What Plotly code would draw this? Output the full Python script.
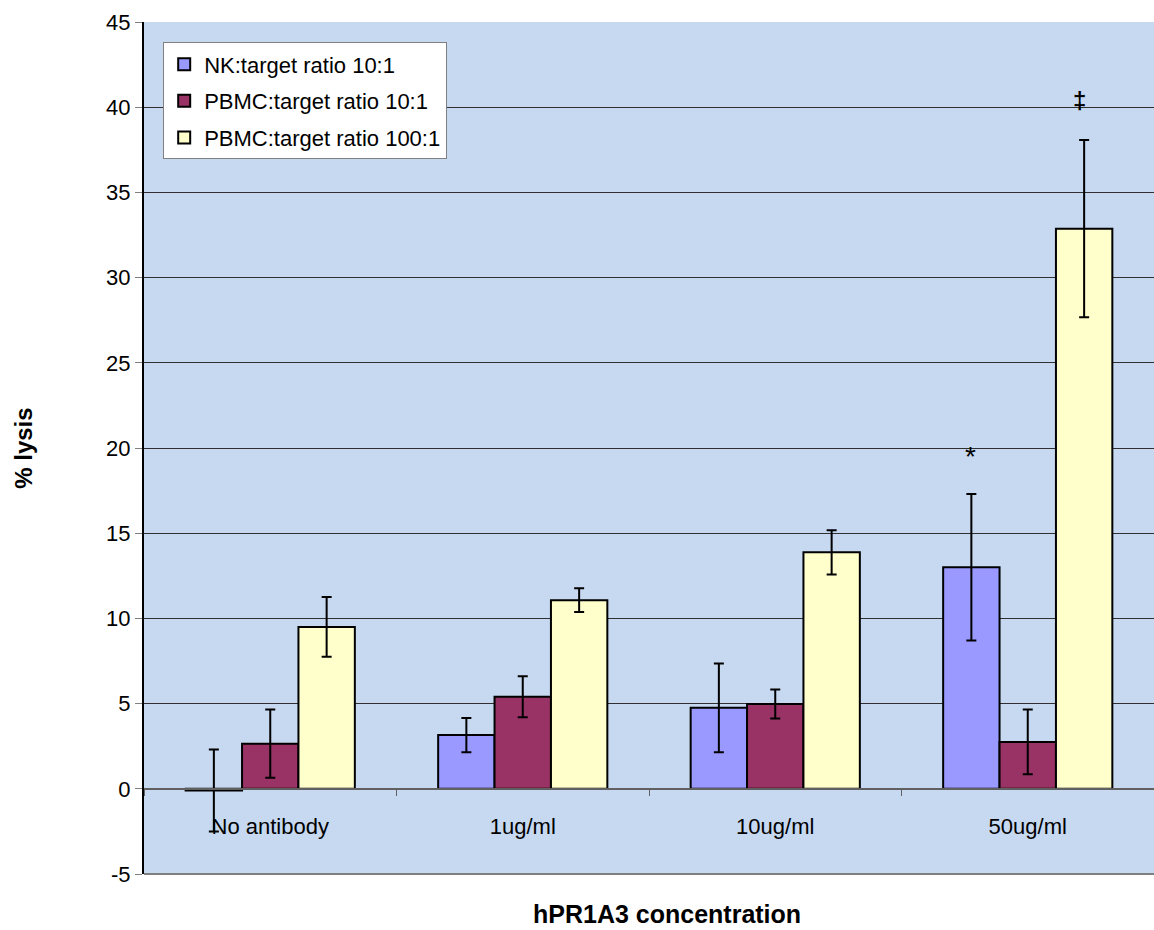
import plotly.graph_objects as go

categories = ["No antibody", "1ug/ml", "10ug/ml", "50ug/ml"]
series_names = ["NK:target ratio 10:1", "PBMC:target ratio 10:1", "PBMC:target ratio 100:1"]
nk_values = [-0.1, 3.15, 4.75, 13.0]
nk_errors = [2.4, 1.0, 2.6, 4.3]
pbmc10_values = [2.65, 5.4, 4.98, 2.75]
pbmc10_errors = [2.0, 1.2, 0.85, 1.9]
pbmc100_values = [9.5, 11.07, 13.88, 32.87]
pbmc100_errors = [1.75, 0.7, 1.3, 5.2]
colors = ["#9999FF", "#993366", "#FFFFCC"]
y_ticks = [-5, 0, 5, 10, 15, 20, 25, 30, 35, 40, 45]
y_tick_labels = ["-5", "0", "5", "10", "15", "20", "25", "30", "35", "40", "45"]

FONT = "Liberation Sans, Arial, sans-serif"

fig = go.Figure()
for i, (name, vals, errs, col) in enumerate(zip(series_names,
                                 [nk_values, pbmc10_values, pbmc100_values],
                                 [nk_errors, pbmc10_errors, pbmc100_errors],
                                 colors)):
    fig.add_trace(go.Bar(
        x=categories, y=vals, name=name, legendgroup=f"g{i}",
        marker=dict(color=col, line=dict(color="black", width=2)),
        error_y=dict(type="data", array=errs, visible=True, color="black",
                     thickness=2, width=5),
    ))

fig.add_annotation(x="50ug/ml", y=19.5, text="*", showarrow=False, xshift=-57,
                   font=dict(size=28, color="black", family=FONT))
fig.add_annotation(x="50ug/ml", y=40.4, text="<b>‡</b>", showarrow=False, xshift=52,
                   font=dict(size=24, color="black", family=FONT))
fig.add_annotation(xref="paper", yref="paper", x=0.518, y=-0.047, yanchor="middle",
                   xanchor="center", borderpad=0,
                   text="<b>hPR1A3 concentration</b>", showarrow=False,
                   font=dict(size=25, color="black", family=FONT))
fig.add_annotation(xref="paper", yref="paper", x=-0.120, y=0.5, textangle=-90,
                   xanchor="center", yanchor="middle",
                   text="<b>% lysis</b>", showarrow=False,
                   font=dict(size=24, color="black", family=FONT))
fig.add_shape(type="line", xref="paper", yref="paper", x0=0, x1=1, y0=0, y1=0,
              line=dict(color="#808080", width=2))

fig.update_layout(
    width=1154, height=930,
    margin=dict(l=144, r=0, t=22, b=56),
    paper_bgcolor="white",
    plot_bgcolor="#C6D9F1",
    barmode="group",
    bargap=0.33, bargroupgap=0,
    font=dict(family=FONT, size=22, color="black"),
    showlegend=True,
    legend=dict(x=0.019, y=0.976, xanchor="left", yanchor="top",
                bgcolor="white", bordercolor="#808080", borderwidth=1,
                font=dict(size=22, family=FONT), traceorder="grouped",
                tracegroupgap=5),
    xaxis=dict(
        type="category", anchor="free", position=0.1,
        showline=True, linecolor="#606060", linewidth=2,
        ticks="outside", tickson="boundaries", ticklen=6, tickcolor="#606060",
        tickfont=dict(size=22, family=FONT), ticklabelstandoff=18,
        showgrid=False,
    ),
    yaxis=dict(
        range=[-5, 45], tickvals=y_ticks, ticktext=y_tick_labels,
        showline=True, linecolor="black", linewidth=2,
        ticks="outside", ticklen=7, tickcolor="#808080",
        tickfont=dict(size=22, family=FONT),
        showgrid=True, gridcolor="#303030", gridwidth=1,
        zeroline=True, zerolinecolor="#606060", zerolinewidth=2,
    ),
)

fig.write_html("out.html", config={"displayModeBar": False},
               post_script="document.body.style.margin='0';document.body.style.overflow='hidden';")
